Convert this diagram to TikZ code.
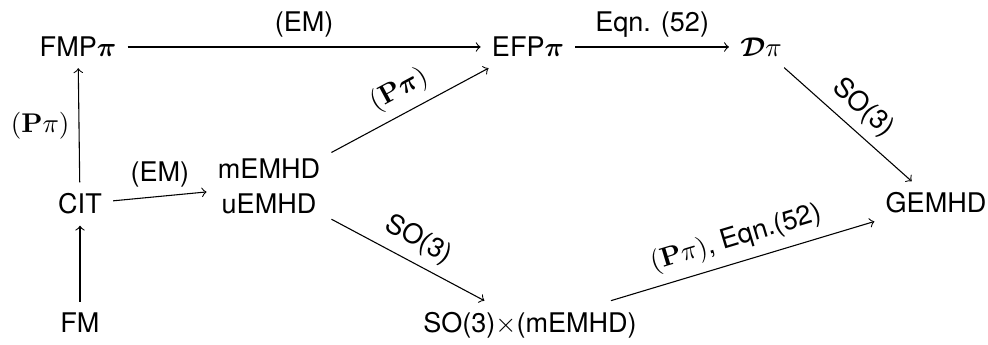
\documentclass[tikz,border=0pt]{standalone}
\usepackage[no-math]{fontspec}
\setmainfont{TeX Gyre Heros}
\usepackage{amsmath, amssymb, bm}
\usetikzlibrary{arrows.meta, calc, positioning}

\begin{document}
\begin{tikzpicture}[>=to, thin,
  box/.style={inner sep=4pt, align=center},
  lab/.style={sloped, above}]
\useasboundingbox (0,0) rectangle (12.844,4.485);
% nodes
\node[box] (fmp)   at (1.014,3.874)  {FMP$\bm{\pi}$};
\node[box] (cit)   at (1.04,1.833)   {CIT};
\node[box] (fm)    at (1.04,0.286)   {FM};
\node[box] (emhd)  at (3.497,2.067)  {mEMHD\\[1pt]uEMHD};
\node[box] (efp)   at (6.864,3.874)  {EFP$\bm{\pi}$};
\node[box] (dpi)   at (9.893,3.874)  {$\bm{\mathcal{D}}\pi$};
\node[box] (gemhd) at (12.168,1.846) {GEMHD};
\node[box] (soemhd) at (6.89,0.26)   {SO(3)$\times$(mEMHD)};
% left column
\draw[->] (fm) -- (cit);
\draw[->] (cit) -- node[left] {$(\mathbf{P}\pi)$} (fmp);
\draw[->] (cit) -- node[above] {(EM)} (emhd);
% top row
\draw[->] (fmp) -- node[above] {(EM)} (efp);
\draw[->] (efp) -- node[above] {Eqn. (52)} (dpi);
\draw[->] (dpi) -- node[lab] {SO(3)} (gemhd);
% middle
\draw[->] (emhd) -- node[lab] {$(\mathbf{P}\bm{\pi})$} (efp);
\draw[->] (emhd) -- node[lab] {SO(3)} (soemhd);
\draw[->] (soemhd) -- node[lab] {$(\mathbf{P}\pi)$, Eqn.(52)} (gemhd);
\end{tikzpicture}
\end{document}
